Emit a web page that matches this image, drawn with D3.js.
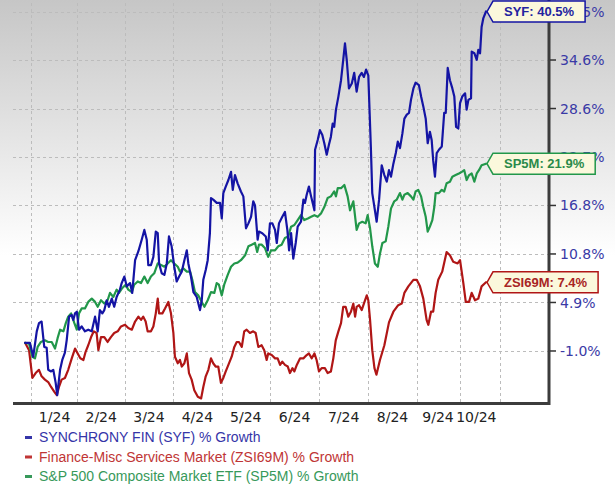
<!DOCTYPE html>
<html><head><meta charset="utf-8">
<script src="https://cdn.jsdelivr.net/npm/d3@7"></script>
<style>html,body{margin:0;padding:0;background:#fff;} svg{display:block}</style>
</head><body><svg id="c" width="615" height="491"></svg>
<script>
// ---------- DATA ----------
const monthLabels = ["1/24","2/24","3/24","4/24","5/24","6/24","7/24","8/24","9/24","10/24"];
const monthLabelDays = [13.9, 35.1, 56.8, 78.8, 100.8, 123.0, 145.3, 167.5, 188.2, 205.6];
const monthGridDays = [3.4, 24.3, 45.9, 67.7, 89.8, 111.8, 134.1, 156.4, 178.6, 198.2, 216.4];
const yTickValues = [-1.0, 4.93, 10.86, 16.79, 22.71, 28.64, 34.57, 40.5];
const yTickLabels = ["-1.0%","4.9%","10.8%","16.8%","22.7%","28.6%","34.6%","40.5%"];

const seriesNames = ["SYNCHRONY FIN (SYF) % Growth","Finance-Misc Services Market (ZSI69M) % Growth","S&P 500 Composite Market ETF (SP5M) % Growth"];
const tagLabels = ["SYF: 40.5%","ZSI69M: 7.4%","SP5M: 21.9%"];

const syfDays = [0.5,2.7,4.2,5.8,6.8,8.0,9.2,10.3,11.0,12.3,13.3,14.4,15.1,16.4,17.4,18.6,19.4,20.5,21.7,22.4,23.2,24.0,25.0,26.2,27.7,29.2,30.8,32.3,33.5,34.5,35.6,36.5,37.6,38.6,39.9,41.0,42.1,43.6,44.4,45.6,46.7,48.2,49.2,50.5,52.0,53.5,54.7,55.8,56.5,57.7,58.8,59.9,60.8,61.4,62.6,63.8,64.9,65.9,67.1,68.3,69.4,70.5,71.7,72.9,74.0,74.7,75.9,77.0,78.5,80.0,80.8,81.5,82.6,83.5,84.5,85.0,86.0,87.6,89.1,89.9,90.6,91.7,92.9,94.1,94.9,95.9,97.1,98.6,99.7,100.9,102.0,103.2,104.2,105.0,106.2,106.8,108.3,109.9,110.8,111.8,112.9,114.1,114.9,115.9,117.4,118.6,119.7,120.5,121.4,122.4,123.5,124.4,125.9,127.0,127.7,128.5,129.5,130.5,132.0,132.3,133.5,134.5,135.6,136.5,137.6,138.6,139.5,140.3,141.0,141.8,142.9,144.1,145.1,145.9,146.7,147.7,149.0,150.1,151.2,152.3,153.5,154.5,155.5,156.5,157.7,158.3,159.5,160.3,161.4,162.6,163.8,164.9,165.9,166.8,167.9,169.0,169.9,170.9,172.0,172.9,174.0,175.0,175.9,177.0,178.0,179.5,180.5,181.5,182.6,183.5,184.5,185.3,186.0,186.8,187.6,188.6,189.9,191.0,191.7,192.6,193.6,194.7,195.6,196.4,197.4,198.2,199.2,200.5,201.2,202.0,203.2,203.5,204.7,205.8,206.5,207.3,208.0,208.8,210.0];
const syfValues = [0.0,0.0,-1.7,1.4,2.4,2.6,-0.5,-0.6,-3.3,-3.5,-3.3,-4.9,-6.4,-3.3,-2.1,-1.2,0.3,3.2,3.4,2.8,3.6,3.8,1.6,2.0,1.4,1.6,1.4,3.2,1.4,4.0,3.6,4.0,5.2,4.4,5.4,4.4,5.6,6.5,7.3,8.1,6.9,7.3,6.1,10.1,11.2,12.6,13.8,12.6,9.5,9.5,10.5,13.6,13.4,9.7,8.5,8.3,9.7,13.0,11.8,9.3,7.5,8.1,8.7,10.1,11.3,9.7,8.1,6.2,5.6,4.0,5.2,7.7,8.9,10.1,13.4,17.7,17.5,17.1,17.1,15.2,18.3,19.1,19.9,20.9,18.7,20.5,19.5,18.5,17.9,14.0,14.6,15.4,17.3,16.8,12.6,13.6,13.4,13.0,11.3,14.6,14.6,13.8,12.2,14.6,15.4,16.0,13.8,11.3,13.4,10.3,12.2,14.2,14.8,17.5,17.1,18.1,19.1,17.9,16.2,23.6,24.8,26.0,25.4,24.4,23.0,24.2,25.2,26.8,26.4,28.5,30.1,32.1,34.6,36.6,34.6,31.1,31.7,33.0,30.7,32.5,33.0,32.5,33.4,32.7,23.6,18.3,16.2,14.8,17.5,21.7,20.5,19.7,21.1,20.3,21.9,23.2,24.6,23.8,25.6,27.4,27.9,28.1,29.7,31.1,31.8,31.5,30.1,28.9,27.4,24.4,25.8,24.8,22.3,20.3,23.2,23.6,24.0,28.1,28.1,33.6,32.1,31.1,30.1,26.4,26.2,29.3,30.1,30.5,28.5,29.7,29.9,35.6,35.4,34.6,35.8,35.4,38.6,39.7,40.5];

const zsiDays = [0.5,2.3,3.8,5.3,6.8,8.0,9.5,11.0,12.3,13.8,14.9,15.9,17.1,18.6,20.1,21.7,23.2,24.4,25.6,27.0,28.0,29.2,30.5,31.7,33.0,33.8,35.0,36.5,38.0,39.5,41.0,42.6,44.1,45.9,47.4,49.0,50.5,52.0,53.2,54.2,55.3,56.2,57.7,58.8,59.9,60.8,61.4,62.9,64.1,65.6,66.8,67.9,68.6,69.9,70.9,71.7,72.9,74.0,75.0,76.2,77.4,79.0,80.5,81.5,82.6,83.8,85.0,86.0,87.1,88.3,89.5,90.6,91.7,92.9,94.4,95.6,96.7,97.7,99.0,100.1,101.2,102.7,104.2,105.3,106.5,108.0,109.2,110.3,111.0,112.6,114.1,115.3,116.4,117.4,118.6,119.9,120.9,122.0,122.9,124.0,125.5,127.0,128.5,129.5,130.8,132.0,133.0,134.1,135.3,136.8,138.0,139.5,140.6,141.7,142.9,144.1,145.1,146.2,147.4,148.6,149.7,150.5,151.2,152.3,153.5,154.5,155.8,156.5,157.3,158.3,159.3,160.2,161.8,163.8,165.9,167.9,170.1,171.7,172.9,174.7,177.0,178.5,180.0,181.5,183.0,183.8,185.0,186.0,187.1,188.3,190.1,192.1,193.6,195.1,197.1,198.2,199.7,200.8,202.3,203.5,205.0,206.5,208.0,210.0];
const zsiValues = [0.0,-0.9,-4.3,-3.7,-3.3,-4.1,-4.5,-4.8,-5.4,-6.0,-6.4,-5.4,-4.5,-4.3,-3.3,-1.9,-0.7,-1.3,-1.9,-2.1,-1.1,-0.3,0.7,1.4,1.2,-0.9,0.7,0.7,0.1,0.7,1.2,1.4,2.0,2.2,1.8,1.6,2.6,3.2,2.8,3.2,2.6,1.4,1.4,2.0,3.6,5.4,3.6,3.6,4.2,5.0,3.6,1.2,-1.7,-2.5,-2.1,-2.9,-2.5,-1.3,-3.7,-4.5,-5.8,-6.6,-6.8,-5.4,-4.1,-3.3,-1.9,-2.5,-2.9,-2.9,-4.9,-4.3,-3.5,-2.7,-1.7,-0.5,0.1,0.1,-0.5,1.4,1.6,1.2,1.4,1.2,-0.5,-0.3,-0.9,-2.1,-1.3,-1.5,-1.9,-1.9,-2.7,-2.3,-2.7,-2.9,-3.7,-3.1,-3.5,-2.7,-1.9,-1.9,-1.5,-1.3,-1.9,-1.3,-2.1,-3.5,-3.1,-3.1,-3.7,-3.5,-1.9,0.3,1.4,2.4,4.4,4.4,3.2,3.8,4.8,3.2,4.4,4.6,4.0,4.8,5.8,5.2,2.8,-0.9,-3.1,-3.9,-2.1,-0.3,2.5,3.8,4.6,4.8,6.1,6.9,7.7,7.7,6.9,5.4,2.8,2.2,3.8,3.8,6.1,7.7,8.7,11.1,10.7,9.9,9.7,10.1,7.3,5.0,5.0,6.1,5.2,5.4,6.9,7.4];

const spDays = [0.5,2.3,3.8,5.0,6.2,7.7,9.5,11.0,12.6,14.1,15.3,16.4,17.9,19.0,20.1,21.4,22.9,24.0,25.0,26.2,27.7,29.2,30.8,32.3,33.5,35.0,36.5,38.0,39.1,40.6,42.1,43.2,44.7,46.2,47.4,49.0,50.1,51.7,53.2,54.7,56.2,57.7,59.2,60.8,62.3,63.8,65.3,66.8,68.3,69.9,70.9,72.4,74.0,75.5,76.5,77.7,79.2,80.8,82.0,83.5,85.0,86.5,87.6,88.6,89.9,91.0,92.6,94.1,95.6,97.1,98.6,100.5,102.0,103.5,105.0,106.0,106.8,108.0,109.5,111.0,112.3,114.1,115.6,117.1,118.6,120.1,121.4,122.9,124.4,125.9,127.4,129.0,130.5,132.0,133.5,135.0,136.5,138.0,139.5,141.0,141.8,142.6,144.1,145.6,147.1,148.2,149.7,151.2,152.3,153.8,155.3,156.2,157.3,158.3,159.5,160.8,161.8,162.9,164.4,165.6,166.8,168.3,169.4,170.9,172.0,172.9,174.4,175.9,177.0,178.0,179.2,180.5,181.5,182.6,183.5,184.5,185.6,186.5,187.1,188.6,189.9,191.0,192.1,193.6,194.7,196.2,197.7,199.0,200.1,201.2,202.3,203.5,204.7,205.8,206.8,208.0,210.0];
const spValues = [0.0,-0.1,-1.7,-1.9,-0.5,0.1,0.3,0.1,0.1,-0.7,0.6,1.6,1.4,2.4,3.2,3.6,2.4,1.6,3.6,4.2,4.2,5.0,5.4,5.0,4.4,5.2,4.8,5.2,6.1,5.6,6.5,6.1,6.7,7.1,6.5,6.2,7.1,7.5,7.3,8.1,7.3,8.1,8.5,9.7,9.5,9.3,9.7,10.1,9.7,9.3,8.7,9.1,8.7,8.7,7.7,6.2,5.8,5.0,4.4,5.2,6.2,6.1,7.3,7.1,5.8,7.1,8.3,9.3,9.7,9.8,10.1,10.7,11.8,12.0,12.2,11.1,12.0,12.0,11.6,10.5,11.3,11.3,11.8,12.0,12.8,13.0,14.2,14.4,15.0,15.6,15.0,15.2,15.4,15.6,15.4,15.8,16.6,17.7,17.9,18.5,17.9,18.9,18.9,19.3,17.9,16.2,17.3,13.8,14.6,14.8,14.6,15.6,14.0,11.8,9.7,9.3,10.9,12.2,12.4,14.2,16.4,17.3,17.5,18.3,17.5,18.1,18.3,17.9,17.5,18.5,18.7,17.9,16.6,15.4,13.6,14.2,15.0,16.6,18.3,18.3,18.7,18.5,19.5,19.7,20.3,20.5,20.7,20.9,21.1,19.9,20.5,20.7,19.7,20.7,21.1,21.7,21.9];

// ---------- LAYOUT ----------
const W = 615, H = 491;
const plotLeft = 13, plotRight = 549, plotTop = 3, plotBottom = 403.5;
const colors = {syf:"#1414a4", zsi:"#b01616", sp:"#22974a"};
const legendColors = ["#3535a8","#c03535","#37995a"];
const tagText = ["#2323a0","#a82424","#2a8a4a"];

const x = d3.scaleLinear().domain([0, 210]).range([24, 486]);
const y = d3.scaleLinear().domain([-7.42, 41.54]).range([plotBottom, plotTop]);

const svg = d3.select("#c");
const defs = svg.append("defs");
const grad = defs.append("linearGradient").attr("id","bg").attr("x1",0).attr("y1",0).attr("x2",0).attr("y2",1);
grad.append("stop").attr("offset","0%").attr("stop-color","#c6c6c6");
grad.append("stop").attr("offset","52%").attr("stop-color","#ffffff");
grad.append("stop").attr("offset","100%").attr("stop-color","#ffffff");
svg.append("rect").attr("width",W).attr("height",H).attr("fill","url(#bg)");

// gridlines
const grid = svg.append("g").attr("stroke","#bcbcbc").attr("stroke-width",1).attr("stroke-dasharray","3,3").attr("shape-rendering","crispEdges");
grid.selectAll(".h").data(yTickValues).join("line")
  .attr("x1",plotLeft).attr("x2",plotRight).attr("y1",d=>Math.round(y(d))+0.5).attr("y2",d=>Math.round(y(d))+0.5);
grid.selectAll(".v").data(monthGridDays).join("line")
  .attr("x1",d=>Math.round(x(d))+0.5).attr("x2",d=>Math.round(x(d))+0.5).attr("y1",plotTop).attr("y2",plotBottom);

// lines
const line = d3.line().x(d=>x(d[0])).y(d=>y(d[1]));
const series = [
  {key:"zsi", pts: d3.zip(zsiDays, zsiValues), color: colors.zsi},
  {key:"sp", pts: d3.zip(spDays, spValues), color: colors.sp},
  {key:"syf", pts: d3.zip(syfDays, syfValues), color: colors.syf}
];
svg.append("g").selectAll("path").data(series).join("path")
  .attr("d", d=>line(d.pts)).attr("fill","none").attr("stroke",d=>d.color)
  .attr("stroke-width",2.2).attr("stroke-linejoin","round").attr("stroke-linecap","round");

// axes
svg.append("line").attr("x1",plotLeft).attr("x2",plotRight+1).attr("y1",plotBottom).attr("y2",plotBottom)
  .attr("stroke","#3c3c3c").attr("stroke-width",3);
svg.append("line").attr("x1",plotRight).attr("x2",plotRight).attr("y1",0).attr("y2",plotBottom+1.5)
  .attr("stroke","#3c3c3c").attr("stroke-width",3);

const yAxis = svg.append("g");
yAxis.selectAll("line").data(yTickValues).join("line")
  .attr("x1",plotRight+1).attr("x2",plotRight+7).attr("y1",d=>y(d)).attr("y2",d=>y(d))
  .attr("stroke","#333").attr("stroke-width",1.5);
yAxis.selectAll("text").data(yTickValues).join("text")
  .attr("x",560).attr("y",d=>y(d)).attr("dy","0.36em")
  .attr("font-family","DejaVu Sans, Verdana, sans-serif").attr("font-size",14).attr("fill","#3a3aa6")
  .text((d,i)=>yTickLabels[i]);

// month labels
svg.append("g").selectAll("text").data(monthLabels).join("text")
  .attr("x",(d,i)=>x(monthLabelDays[i])).attr("y",421.5).attr("text-anchor","middle")
  .attr("font-family","DejaVu Sans, Verdana, sans-serif").attr("font-size",14).attr("fill","#222")
  .text(d=>d);

// legend
const leg = svg.append("g");
seriesNames.forEach((name,i)=>{
  const by = 442 + i*19.5;
  leg.append("rect").attr("x",25).attr("y",by-6).attr("width",7).attr("height",3).attr("fill",legendColors[i]);
  leg.append("text").attr("x",39).attr("y",by).attr("font-family","Liberation Sans, Arial, sans-serif")
    .attr("font-size",14).attr("fill",legendColors[i]).text(name);
});

// end tags
const tagSeries = [
  {pts: d3.zip(syfDays, syfValues), color: colors.syf, text: tagLabels[0], tc: tagText[0]},
  {pts: d3.zip(spDays, spValues), color: colors.sp, text: tagLabels[2], tc: tagText[2]},
  {pts: d3.zip(zsiDays, zsiValues), color: colors.zsi, text: tagLabels[1], tc: tagText[1]}
];
tagSeries.forEach(s=>{
  const last = s.pts[s.pts.length-1];
  const px = x(last[0]) + 1, cy = y(last[1]);
  const g = svg.append("g");
  const path = g.append("path");
  const t = g.append("text").attr("font-family","Liberation Sans, Arial, sans-serif").attr("font-weight","bold")
    .attr("font-size",13).attr("fill",s.tc).attr("y",cy).attr("dy","0.36em").text(s.text);
  const tw = t.node().getComputedTextLength();
  const left = px + 6, right = left + tw + 22, top = cy - 10.5, bot = cy + 10.5;
  t.attr("x", left + 11);
  path.attr("d",`M${px},${cy}L${left},${top}L${right},${top}L${right},${bot}L${left},${bot}Z`)
    .attr("fill","#fbf8dc").attr("stroke",s.color).attr("stroke-width",1.5);
});
</script></body></html>
